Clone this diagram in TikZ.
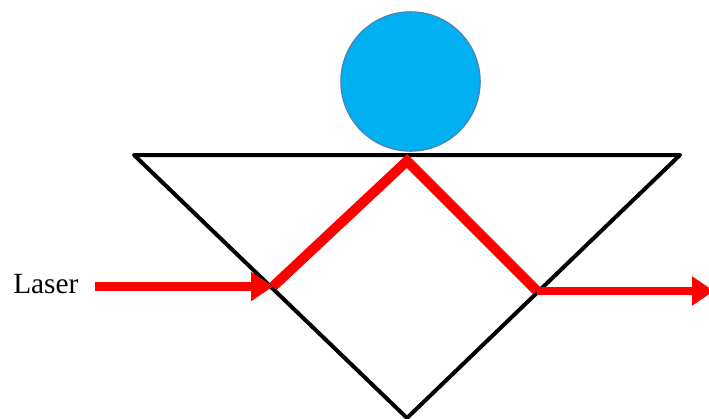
\documentclass[tikz,border=0pt]{standalone}
\usepackage{fontspec}
\setmainfont{Liberation Serif}
\usetikzlibrary{arrows.meta}
\definecolor{dropfill}{HTML}{00B0F0}
\definecolor{dropline}{HTML}{4F7FB5}
\tikzset{
  prism/.style={draw=black,line width=3pt,line join=round,line cap=round},
  beam/.style={draw=red,line width=7.5pt,line join=miter},
  beamarrow/.style={draw=red,line width=6.5pt,-{Triangle[length=16.5pt,width=21pt]}},
  drop/.style={circle,draw=dropline,line width=0.9pt,fill=dropfill,minimum size=104.5pt,inner sep=0pt},
  label/.style={font=\fontsize{22pt}{26pt}\selectfont,inner sep=0pt,anchor=base west}
}
\begin{document}
\begin{tikzpicture}[x=0.75pt,y=-0.75pt]
\useasboundingbox (0,0) rectangle (709,418);
\coordinate (pl) at (134,155);
\coordinate (pr) at (680,155);
\coordinate (pb) at (407,418);
\coordinate (inS) at (95,286.5);
\coordinate (inE) at (273,286.5);
\coordinate (top) at (407,161);
\coordinate (outS) at (537,291);
\coordinate (outE) at (714,291);
\node[drop] (sphere) at (410.5,81.5) {};
\draw[prism] (pl) -- (pr) -- (pb) -- cycle;
\draw[beamarrow] (inS) -- (inE);
\draw[beam] (inE) -- (top) -- (outS);
\begin{scope}
\clip (0,0) rectangle (709,418);
\draw[beamarrow] (outS) -- (outE);
\end{scope}
\node[label] (laser) at (13,293) {Laser};
\end{tikzpicture}
\end{document}
